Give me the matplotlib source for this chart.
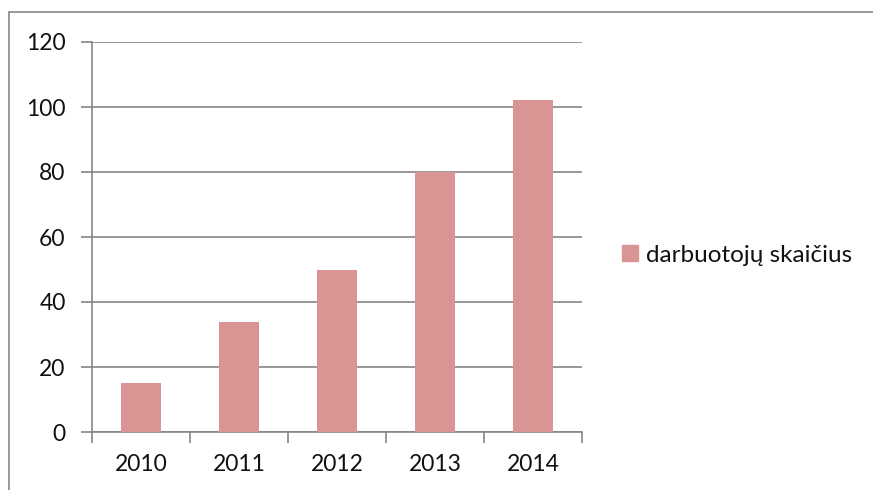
import matplotlib.pyplot as plt
from matplotlib.patches import Patch, Rectangle

years = ["2010", "2011", "2012", "2013", "2014"]
employees = [15, 34, 50, 80, 102]
y_ticks = [0, 20, 40, 60, 80, 100, 120]
series_label = "darbuotojų skaičius"

bar_color = "#d99594"
grid_color = "#868686"

plt.rcParams["font.family"] = ["Lato", "DejaVu Sans"]

W, H = 873, 490
fig = plt.figure(figsize=(W / 100, H / 100), dpi=100)

# outer chart border (right and bottom edges fall off the image)
fig.patches.append(Rectangle((8.5 / W, -0.1), 1.2, 1 - 12.5 / H + 0.1,
                             transform=fig.transFigure, fill=False,
                             edgecolor="#888888", linewidth=1.2))

ax = fig.add_axes([92 / W, 1 - 432 / H, (582 - 92) / W, (432 - 42) / H])

x = range(len(years))
ax.bar(x, employees, width=0.4, color=bar_color, zorder=3)

ax.set_xlim(-0.5, len(years) - 0.5)
ax.set_ylim(0, 120)
ax.set_yticks(y_ticks)
ax.set_xticks([i - 0.5 for i in range(len(years) + 1)], minor=False)
ax.set_xticklabels([])
ax.set_xticks(list(x), minor=True)
ax.set_xticklabels(years, minor=True)

ax.yaxis.grid(True, color=grid_color, linewidth=1.2, zorder=0)
for side in ["top", "right"]:
    ax.spines[side].set_visible(False)
for side in ["left", "bottom"]:
    ax.spines[side].set_color(grid_color)
    ax.spines[side].set_linewidth(1.2)

ax.tick_params(axis="y", length=8, width=1.2, color=grid_color,
               labelsize=16.5, pad=11, labelcolor="#111111")
ax.tick_params(axis="x", which="major", length=8, width=1.2, color=grid_color)
ax.tick_params(axis="x", which="minor", length=0, labelsize=16.5, pad=16,
               labelcolor="#111111")

ax.legend(handles=[Patch(color=bar_color, label=series_label)],
          loc="center left", bbox_to_anchor=(622 / W, 1 - 255 / H),
          bbox_transform=fig.transFigure, frameon=False, fontsize=17.5,
          handlelength=0.65, handleheight=0.65, handletextpad=0.35,
          borderpad=0, borderaxespad=0, labelcolor="#111111")

fig.savefig("out.png", dpi=100)
